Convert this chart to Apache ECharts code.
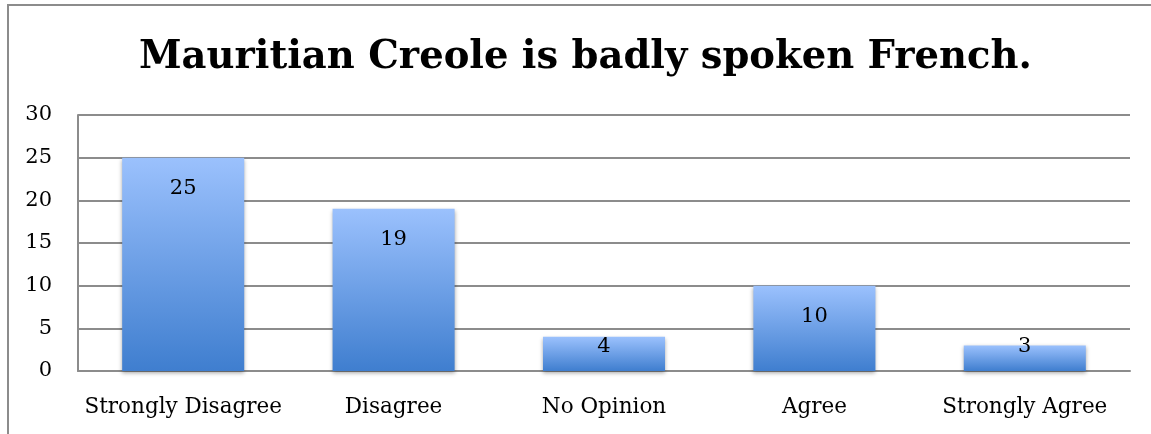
<!DOCTYPE html>
<html>
<head>
<meta charset="utf-8">
<script src="https://cdn.jsdelivr.net/npm/echarts@6/dist/echarts.min.js"></script>
<style>
  html, body { margin: 0; padding: 0; background: #fff; }
  #frame { position: absolute; left: 7px; top: 4px; width: 1160px; height: 450px;
           border-left: 2px solid #8c8c8c; border-top: 2px solid #8c8c8c; box-sizing: border-box; }
  #chart { position: absolute; left: 0; top: 0; width: 1151px; height: 434px; }
</style>
</head>
<body>
<div id="frame"></div>
<div id="chart"></div>
<script>
// Survey responses to the statement in the title
const titleText = 'Mauritian Creole is badly spoken French.';
const categories = ['Strongly Disagree', 'Disagree', 'No Opinion', 'Agree', 'Strongly Agree'];
const counts = [25, 19, 4, 10, 3];
const yTicks = [0, 5, 10, 15, 20, 25, 30];

const FONT = 'DejaVu Serif';

// Tall bars carry the label just under their top; short bars keep it
// a fixed height above the axis so it never drops below the baseline
const barData = counts.map(v => ({
  value: v,
  label: v >= 8
    ? { position: 'insideTop', distance: 20 }
    : { position: 'insideBottom', distance: 14 }
}));

const chart = echarts.init(document.getElementById('chart'), null, { renderer: 'canvas' });
chart.setOption({
  animation: false,
  title: {
    text: titleText,
    left: 134,
    top: 33,
    textStyle: { fontFamily: FONT, fontWeight: 'bold', fontSize: 38.5, color: '#000' }
  },
  grid: { left: 78, right: 21, top: 115, bottom: 63 },
  xAxis: {
    type: 'category',
    data: categories,
    axisLine: { show: true, lineStyle: { color: '#8c8c8c', width: 2 } },
    axisTick: { show: false },
    axisLabel: { fontFamily: FONT, fontSize: 21.5, color: '#000', margin: 25, interval: 0 }
  },
  yAxis: {
    type: 'value',
    min: yTicks[0],
    max: yTicks[yTicks.length - 1],
    interval: 5,
    axisLine: { show: true, lineStyle: { color: '#8c8c8c', width: 2 } },
    axisTick: { show: false },
    splitLine: { lineStyle: { color: '#8c8c8c', width: 2 } },
    axisLabel: { fontFamily: FONT, fontSize: 21, color: '#000', margin: 26 }
  },
  series: [{
    type: 'bar',
    data: barData,
    barWidth: '58%',
    itemStyle: {
      color: new echarts.graphic.LinearGradient(0, 0, 0, 1, [
        { offset: 0, color: '#9bc1fd' },
        { offset: 1, color: '#3f7ecf' }
      ]),
      shadowColor: 'rgba(0,0,0,0.35)',
      shadowBlur: 4,
      shadowOffsetY: 2
    },
    label: {
      show: true,
      fontFamily: FONT,
      fontSize: 21,
      color: '#000'
    }
  }]
});
</script>
</body>
</html>
